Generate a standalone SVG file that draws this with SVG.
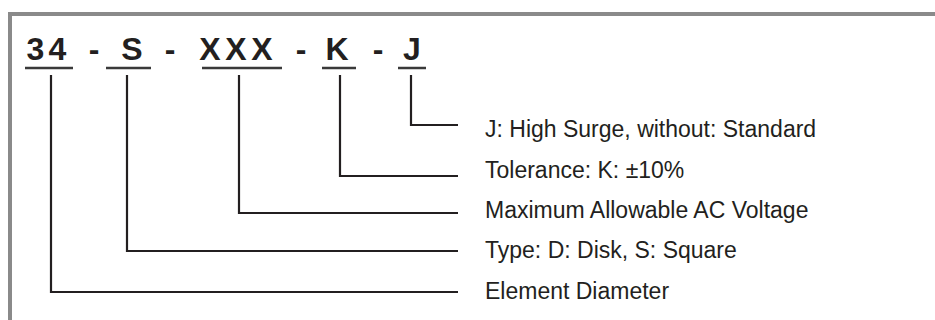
<svg xmlns="http://www.w3.org/2000/svg" width="935" height="320" viewBox="0 0 935 320">
<style>
.frame{fill:none;stroke:#8a8a8a;stroke-width:4}
.code{font-family:"Liberation Sans",Arial,sans-serif;font-weight:bold;font-size:32px;fill:#231f20;text-anchor:middle}
.ul{stroke:#3a3a3a;stroke-width:2.5;fill:none}
.conn{stroke:#231f20;stroke-width:2.2;fill:none}
.lbl{font-family:"Liberation Sans",Arial,sans-serif;font-size:23px;fill:#231f20}
</style>
<rect width="935" height="320" fill="#ffffff"/>
<path class="frame" d="M10,322 V14 H937"/>
<g id="code">
<text class="code" x="35.5" y="60">3</text>
<text class="code" x="57.5" y="60">4</text>
<text class="code" x="94" y="60">-</text>
<text class="code" x="132" y="60">S</text>
<text class="code" x="170" y="60">-</text>
<text class="code" x="210" y="60">X</text>
<text class="code" x="236" y="60">X</text>
<text class="code" x="262" y="60">X</text>
<text class="code" x="301" y="60">-</text>
<text class="code" x="337" y="60">K</text>
<text class="code" x="378" y="60">-</text>
<text class="code" x="412" y="60">J</text>
</g>
<g id="underlines">
<line class="ul" x1="25" y1="68" x2="73" y2="68"/>
<line class="ul" x1="106" y1="68" x2="151" y2="68"/>
<line class="ul" x1="202" y1="68" x2="282" y2="68"/>
<line class="ul" x1="322" y1="68" x2="356" y2="68"/>
<line class="ul" x1="398" y1="68" x2="426" y2="68"/>
</g>
<g id="connectors">
<polyline class="conn" points="51,75 51,292 458,292"/>
<polyline class="conn" points="127,75 127,251 458,251"/>
<polyline class="conn" points="239,75 239,213 458,213"/>
<polyline class="conn" points="340,75 340,176 458,176"/>
<polyline class="conn" points="411,75 411,125 458,125"/>
</g>
<g id="label-j"><text class="lbl" x="485" y="137">J: High Surge, without: Standard</text></g>
<g id="label-k"><text class="lbl" x="485" y="177.5">Tolerance: K: ±10%</text></g>
<g id="label-xxx"><text class="lbl" x="485" y="217.5">Maximum Allowable AC Voltage</text></g>
<g id="label-s"><text class="lbl" x="485" y="258">Type: D: Disk, S: Square</text></g>
<g id="label-34"><text class="lbl" x="485" y="299">Element Diameter</text></g>
</svg>
